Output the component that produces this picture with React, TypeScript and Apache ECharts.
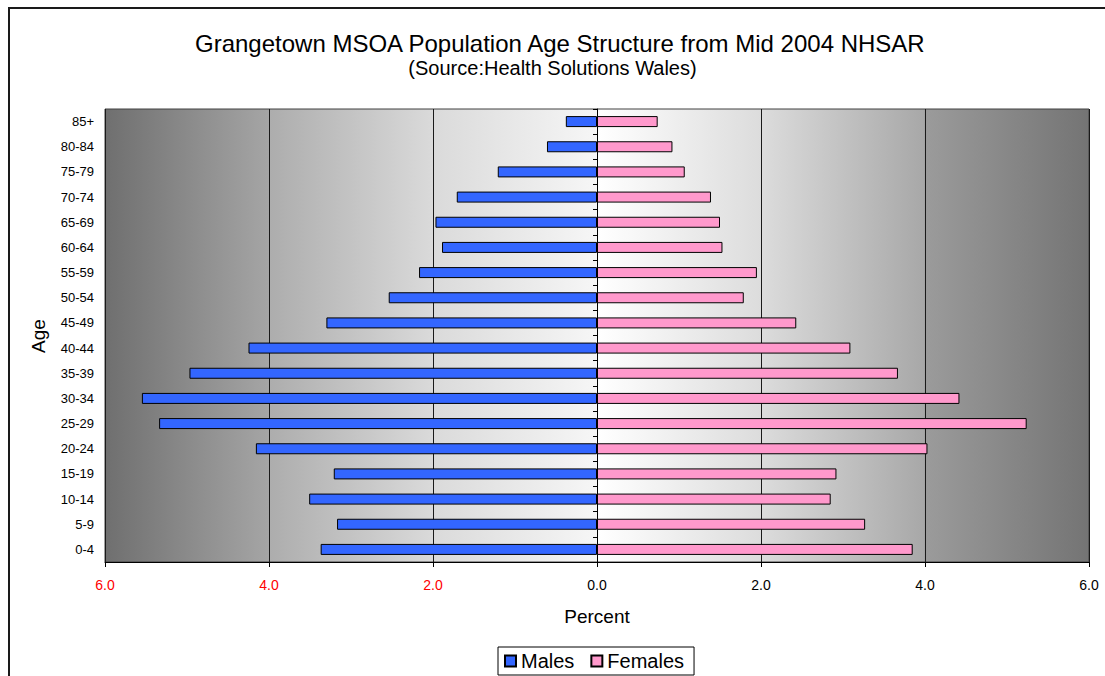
import React, { useEffect, useRef } from "react";
import * as echarts from "echarts";

const ageGroups = [
  "0-4", "5-9", "10-14", "15-19", "20-24", "25-29", "30-34", "35-39", "40-44",
  "45-49", "50-54", "55-59", "60-64", "65-69", "70-74", "75-79", "80-84", "85+",
];
const males = [3.37, 3.17, 3.51, 3.21, 4.16, 5.34, 5.55, 4.97, 4.25, 3.3, 2.54, 2.17, 1.89, 1.97, 1.71, 1.21, 0.61, 0.38];
const females = [3.85, 3.27, 2.85, 2.92, 4.03, 5.24, 4.42, 3.67, 3.09, 2.43, 1.79, 1.95, 1.53, 1.5, 1.39, 1.07, 0.92, 0.74];
const xTicks = { min: -6, max: 6, interval: 2 };

const FONT = "Liberation Sans, Arial, sans-serif";

export default function App() {
  const ref = useRef<HTMLDivElement>(null);
  useEffect(() => {
    if (!ref.current) return;
    const chart = echarts.init(ref.current, null, { renderer: "svg" });
    const bg = new echarts.graphic.LinearGradient(0, 0, 1, 0, [
      { offset: 0, color: "#6f6f6f" },
      { offset: 0.166, color: "#a5a5a5" },
      { offset: 0.168, color: "#adadad" },
      { offset: 0.333, color: "#dadada" },
      { offset: 0.499, color: "#f6f6f6" },
      { offset: 0.501, color: "#ffffff" },
      { offset: 0.667, color: "#dcdcdc" },
      { offset: 0.832, color: "#a8a8a8" },
      { offset: 0.834, color: "#9b9b9b" },
      { offset: 1, color: "#747474" },
    ]);
    chart.setOption({
      animation: false,
      backgroundColor: "#ffffff",
      textStyle: { fontFamily: FONT },
      title: [
        {
          text: "Grangetown MSOA Population Age Structure from Mid 2004 NHSAR",
          left: 195,
          top: 31,
          padding: 0,
          textStyle: { fontSize: 24, fontWeight: "normal", color: "#000", fontFamily: FONT },
        },
        {
          text: "(Source:Health Solutions Wales)",
          left: "center",
          top: 58,
          padding: 0,
          textStyle: { fontSize: 20, fontWeight: "normal", color: "#000", fontFamily: FONT },
        },
      ],
      graphic: [
        {
          type: "rect",
          shape: { x: 9, y: 8, width: 1300, height: 900 },
          style: { fill: "none", stroke: "#1a1a1a", lineWidth: 2 },
          silent: true,
          z: 100,
        },
        {
          type: "text",
          x: 38,
          y: 336,
          rotation: Math.PI / 2,
          style: {
            text: "Age",
            fontSize: 19,
            fontFamily: FONT,
            fill: "#000",
            align: "center",
            verticalAlign: "middle",
          },
        },
      ],
      legend: {
        data: ["Males", "Females"],
        left: 498,
        top: 647,
        padding: [4, 10, 4, 6],
        itemWidth: 11,
        itemHeight: 11,
        itemGap: 16,
        icon: "rect",
        borderColor: "#000",
        borderWidth: 1,
        backgroundColor: "#fff",
        textStyle: { fontSize: 20, color: "#000", fontFamily: FONT },
      },
      grid: {
        left: 105,
        right: 16,
        top: 109,
        bottom: 114,
        show: true,
        backgroundColor: bg,
        borderColor: "#404040",
        borderWidth: 1,
      },
      xAxis: {
        type: "value",
        min: xTicks.min,
        max: xTicks.max,
        interval: xTicks.interval,
        name: "Percent",
        nameLocation: "middle",
        nameGap: 45,
        nameTextStyle: { fontSize: 19, color: "#000", fontFamily: FONT },
        axisLine: { show: true, lineStyle: { color: "#000", width: 1 } },
        axisTick: { show: true, length: 5, lineStyle: { color: "#000" } },
        splitLine: { show: true, lineStyle: { color: "#1a1a1a", width: 1 } },
        axisLabel: {
          margin: 16,
          fontSize: 14,
          fontFamily: FONT,
          formatter: (v: number) => (v < 0 ? "{neg|" + Math.abs(v).toFixed(1) + "}" : "{pos|" + v.toFixed(1) + "}"),
          rich: {
            neg: { color: "#ff0000", fontSize: 14, fontFamily: FONT },
            pos: { color: "#000000", fontSize: 14, fontFamily: FONT },
          },
        },
      },
      yAxis: [
        {
          type: "category",
          data: ageGroups,
          position: "left",
          axisLine: { show: false, onZero: false },
          axisTick: { show: false },
          axisLabel: { margin: 11, fontSize: 13, color: "#000", fontFamily: FONT },
        },
        {
          type: "category",
          data: ageGroups,
          position: "right",
          axisLine: { show: true, onZero: true, lineStyle: { color: "#000", width: 1 } },
          axisTick: { show: true, inside: true, length: 4, lineStyle: { color: "#000" } },
          axisLabel: { show: false },
          splitLine: { show: false },
        },
      ],
      series: [
        {
          name: "Males",
          type: "bar",
          yAxisIndex: 0,
          data: males.map((v) => -v),
          barWidth: 11,
          barGap: "-100%",
          itemStyle: { color: "#3366ff", borderColor: "#000", borderWidth: 1 },
        },
        {
          name: "Females",
          type: "bar",
          yAxisIndex: 0,
          data: females,
          barWidth: 11,
          barGap: "-100%",
          itemStyle: { color: "#ff99cc", borderColor: "#000", borderWidth: 1 },
        },
      ],
    });
    return () => chart.dispose();
  }, []);
  return (
    <div
      ref={ref}
      style={{ position: "absolute", left: 0, top: 0, width: 1105, height: 676 }}
    />
  );
}
